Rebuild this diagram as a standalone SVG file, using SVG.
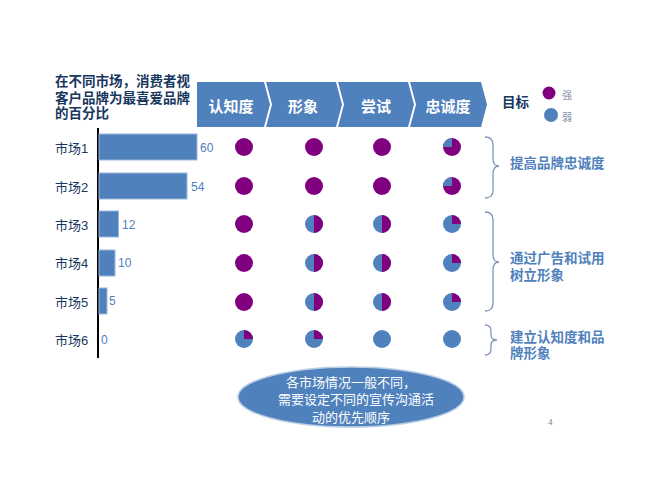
<svg xmlns="http://www.w3.org/2000/svg" xmlns:xlink="http://www.w3.org/1999/xlink" width="650" height="500" viewBox="0 0 650 500">
<style>
.cjk{font-family:"Liberation Sans","Noto Sans CJK SC",sans-serif}
.title{font-size:13.5px;font-weight:bold;fill:#17375E}
.chev{fill:#4F81BD}
.chevt{font-size:15px;font-weight:bold;fill:#FFFFFF;text-anchor:middle}
.mkt{font-size:13px;fill:#17375E}
.val{font-size:12px;fill:#4F81BD}
.bar{fill:#4F81BD;stroke:#9CB7DC;stroke-width:1}
.brace{fill:none;stroke:#7F96B8;stroke-width:1.3}
.btxt{font-size:13.5px;font-weight:bold;fill:#4F81BD}
.legt{font-size:10px;fill:#7F8CA3}
.ell{font-size:13px;fill:#FFFFFF;text-anchor:middle}
</style>
<defs>
<g id="pFull"><circle r="9" fill="#800080"/></g>
<g id="pBlue"><circle r="9" fill="#4F81BD"/></g>
<g id="pQBlue"><circle r="9" fill="#800080"/><path d="M0,0 L-9,0 A9,9 0 0 1 0,-9 Z" fill="#4F81BD"/></g>
<g id="pHalf"><circle r="9" fill="#4F81BD"/><path d="M0,-9 A9,9 0 0 1 0,9 Z" fill="#800080"/></g>
<g id="pQPurple"><circle r="9" fill="#4F81BD"/><path d="M0,0 L0,-9 A9,9 0 0 1 9,0 Z" fill="#800080"/></g>
</defs>
<rect width="650" height="500" fill="#FFFFFF"/>

<g id="title" class="cjk title">
<text x="55" y="86">在不同市场，消费者视</text>
<text x="55" y="102.5">客户品牌为最喜爱品牌</text>
<text x="55" y="118">的百分比</text>
</g>

<g id="chevrons" class="cjk">
<g id="stage-awareness"><path class="chev" d="M197,82 H264 L270,104.5 L264,127 H197 Z"/><text class="chevt" x="231" y="111.5">认知度</text></g>
<g id="stage-image"><path class="chev" d="M266,82 H336 L342,104.5 L336,127 H266 L272,104.5 Z"/><text class="chevt" x="303" y="111.5">形象</text></g>
<g id="stage-trial"><path class="chev" d="M338,82 H408 L414,104.5 L408,127 H338 L344,104.5 Z"/><text class="chevt" x="376" y="111.5">尝试</text></g>
<g id="stage-loyalty"><path class="chev" d="M410,82 H481 L487,104.5 L481,127 H410 L416,104.5 Z"/><text class="chevt" x="448" y="111.5">忠诚度</text></g>
</g>

<g id="legend" class="cjk">
<text x="502" y="107" style="font-size:13.5px;font-weight:bold;fill:#17375E">目标</text>
<circle cx="549" cy="93" r="6.5" fill="#800080"/>
<text class="legt" x="562" y="98.5">强</text>
<circle cx="551" cy="115" r="7" fill="#4F81BD"/>
<text class="legt" x="562" y="121">弱</text>
</g>

<g id="chart" class="cjk">
<line x1="98" y1="128" x2="98" y2="358" stroke="#000000" stroke-width="2"/>
<g id="market1"><text class="mkt" x="55" y="153">市场1</text><rect class="bar" x="99" y="134" width="98" height="26"/><text class="val" x="200" y="152">60</text></g>
<g id="market2"><text class="mkt" x="55" y="192">市场2</text><rect class="bar" x="99" y="173" width="88" height="26"/><text class="val" x="191" y="191">54</text></g>
<g id="market3"><text class="mkt" x="55" y="230">市场3</text><rect class="bar" x="99" y="211" width="19.5" height="26"/><text class="val" x="122" y="229">12</text></g>
<g id="market4"><text class="mkt" x="55" y="268">市场4</text><rect class="bar" x="99" y="250" width="16" height="26"/><text class="val" x="118" y="267">10</text></g>
<g id="market5"><text class="mkt" x="55" y="307">市场5</text><rect class="bar" x="99" y="288" width="8" height="26"/><text class="val" x="109" y="305">5</text></g>
<g id="market6"><text class="mkt" x="55" y="345">市场6</text><text class="val" x="101" y="344">0</text></g>
</g>

<g id="pies">
<use xlink:href="#pFull" x="244" y="147"/><use xlink:href="#pFull" x="314" y="147"/><use xlink:href="#pFull" x="382" y="147"/><use xlink:href="#pQBlue" x="452" y="147"/>
<use xlink:href="#pFull" x="244" y="186"/><use xlink:href="#pFull" x="314" y="186"/><use xlink:href="#pFull" x="382" y="186"/><use xlink:href="#pQBlue" x="452" y="186"/>
<use xlink:href="#pFull" x="244" y="224"/><use xlink:href="#pHalf" x="314" y="224"/><use xlink:href="#pHalf" x="382" y="224"/><use xlink:href="#pQPurple" x="452" y="224"/>
<use xlink:href="#pFull" x="244" y="263"/><use xlink:href="#pHalf" x="314" y="263"/><use xlink:href="#pHalf" x="382" y="263"/><use xlink:href="#pQPurple" x="452" y="263"/>
<use xlink:href="#pFull" x="244" y="302"/><use xlink:href="#pHalf" x="314" y="302"/><use xlink:href="#pHalf" x="382" y="302"/><use xlink:href="#pQPurple" x="452" y="302"/>
<use xlink:href="#pQPurple" x="244" y="339"/><use xlink:href="#pQPurple" x="314" y="339"/><use xlink:href="#pBlue" x="382" y="339"/><use xlink:href="#pBlue" x="452" y="339"/>
</g>

<g id="connectors">
<path class="brace" d="M485,137 Q493,137 493,145 V158 Q493,166 499,166 Q493,166 493,174 V190 Q493,198 485,198"/>
<path class="brace" d="M485,212 Q493,212 493,220 V254 Q493,262 499,262 Q493,262 493,270 V303 Q493,311 485,311"/>
<path class="brace" d="M485,325 Q491,325 491,331 V335 Q491,340 497,340 Q491,340 491,345 V349 Q491,355 485,355"/>
</g>

<g id="goals" class="cjk btxt">
<text x="510" y="168">提高品牌忠诚度</text>
<text x="510" y="263">通过广告和试用</text>
<text x="510" y="280">树立形象</text>
<text x="510" y="341.5">建立认知度和品</text>
<text x="510" y="358">牌形象</text>
</g>

<g id="conclusion" class="cjk">
<ellipse cx="351" cy="397" rx="113" ry="30" fill="#4F81BD" stroke="#B9CDE5" stroke-width="1.5"/>
<text class="ell" x="351" y="387">各市场情况一般不同，</text>
<text class="ell" x="356" y="404">需要设定不同的宣传沟通活</text>
<text class="ell" x="351" y="422">动的优先顺序</text>
</g>

<text x="548" y="425" style="font-family:'Liberation Serif',serif;font-size:9px;fill:#808080">4</text>
</svg>
